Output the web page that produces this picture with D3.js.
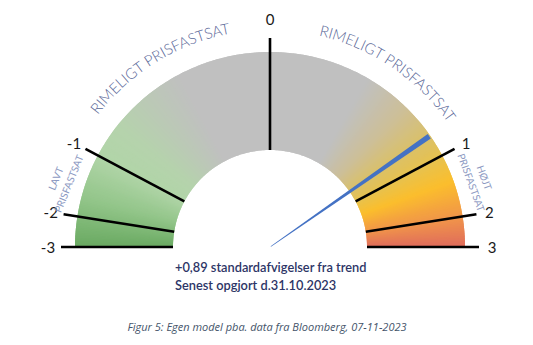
<!DOCTYPE html>
<html>
<head>
<meta charset="utf-8">
<script src="https://cdn.jsdelivr.net/npm/d3@7"></script>
<style>
  html, body { margin: 0; padding: 0; background: #ffffff; }
  svg { display: block; }
</style>
</head>
<body>
<svg id="chart" width="533" height="345"></svg>
<script>
// ---------- data ----------
const tickValues = [-3, -2, -1, 0, 1, 2, 3];
const tickLabels = ["-3", "-2", "-1", "0", "1", "2", "3"];
// gauge angle (degrees, counter-clockwise from the right) at each tick value
const tickAngles = [180, 171, 152, 90, 28, 9, 0];
const currentValue = 0.89;
const zoneTitles = ["RIMELIGT PRISFASTSAT", "RIMELIGT PRISFASTSAT"];
const lowLabel = ["LAVT", "PRISFASTSAT"];
const highLabel = ["HØJT", "PRISFASTSAT"];
const summaryLines = ["+0,89 standardafvigelser fra trend", "Senest opgjort d.31.10.2023"];
const caption = "Figur 5: Egen model pba. data fra Bloomberg, 07-11-2023";

// ---------- layout / style ----------
const cx = 270, cy = 247;
const rInner = 97, rOuter = 195, rTick = 209, rLabel = 222, rText = 217;
const gradAngles = [0, 9, 20, 28, 36, 46, 60, 118, 130, 142, 152, 165, 180];
const gradColors = ["#df6a5c", "#f0944a", "#fbbe2d", "#e7c24f", "#d9c06c", "#cdbf98", "#c0c0c0",
                    "#c0c0c0", "#bbc9b6", "#b5d3ac", "#b1d5a8", "#94c68b", "#6aaa62"];

const svg = d3.select("#chart");
const g = svg.append("g").attr("transform", `translate(${cx},${cy})`);

const valueToAngle = d3.scaleLinear().domain(tickValues).range(tickAngles);
const color = d3.scaleLinear().domain(gradAngles).range(gradColors).interpolate(d3.interpolateRgb);
const rad = d => d * Math.PI / 180;
const pt = (deg, r) => [r * Math.cos(rad(deg)), -r * Math.sin(rad(deg))];

// ---------- gradient band ----------
const arc = d3.arc().innerRadius(rInner).outerRadius(rOuter);
const step = 0.5;
const segs = d3.range(0, 180, step);
g.append("g").selectAll("path").data(segs).join("path")
  .attr("d", a => arc({ startAngle: rad(90 - a - step - 0.25), endAngle: rad(90 - a + (a === 0 ? 0 : 0.25)) }))
  .attr("fill", a => color(a + step / 2));

// ---------- tick lines ----------
g.append("g").selectAll("line").data(tickValues).join("line")
  .attr("x1", v => pt(valueToAngle(v), rInner)[0])
  .attr("y1", v => pt(valueToAngle(v), rInner)[1])
  .attr("x2", v => pt(valueToAngle(v), rTick)[0])
  .attr("y2", v => pt(valueToAngle(v), rTick)[1])
  .attr("stroke", "#000").attr("stroke-width", 2.6);

// ---------- tick labels ----------
g.append("g").selectAll("text").data(tickValues).join("text")
  .attr("x", v => pt(valueToAngle(v), rLabel + (v === 0 ? 6 : 0))[0])
  .attr("y", v => pt(valueToAngle(v), rLabel + (v === 0 ? 6 : 0))[1])
  .attr("text-anchor", "middle")
  .attr("dominant-baseline", "central")
  .attr("font-family", "Lato, 'Open Sans', sans-serif")
  .attr("font-size", 15)
  .attr("fill", "#1a1a1a")
  .text((v, i) => tickLabels[i]);

// ---------- needle ----------
const na = valueToAngle(currentValue);
const tip = pt(na, rOuter - 1);
const perp = [Math.sin(rad(na)), Math.cos(rad(na))];
const wOut = 2.7, wIn = 0.3;
const base = pt(na, 1);
const needlePts = [
  [base[0] + perp[0] * wIn, base[1] + perp[1] * wIn],
  [tip[0] + perp[0] * wOut, tip[1] + perp[1] * wOut],
  [tip[0] - perp[0] * wOut, tip[1] - perp[1] * wOut],
  [base[0] - perp[0] * wIn, base[1] - perp[1] * wIn]
];
g.append("path").attr("d", d3.line()(needlePts) + "Z").attr("fill", "#4472c4");

// ---------- curved zone titles ----------
const defs = svg.append("defs");
function arcPath(a1, a2, r) {
  const p1 = pt(a1, r), p2 = pt(a2, r);
  return `M${p1[0]},${p1[1]} A${r},${r} 0 0 1 ${p2[0]},${p2[1]}`;
}
const titleArcs = [[160, 83], [95, 17]];
titleArcs.forEach((a, i) => {
  defs.append("path").attr("id", "tp" + i).attr("d", arcPath(a[0], a[1], rText))
    .attr("transform", `translate(${cx},${cy})`);
  svg.append("text")
    .attr("font-family", "Lato, 'Open Sans', sans-serif")
    .attr("font-weight", 300)
    .attr("font-size", 15)
    .attr("fill", "#5a6898")
    .append("textPath")
    .attr("href", "#tp" + i)
    .attr("startOffset", "50%")
    .attr("text-anchor", "middle")
    .text(zoneTitles[i]);
});

// ---------- side labels ----------
function sideLabel(lines, x, y, rot) {
  const t = svg.append("text")
    .attr("transform", `translate(${x},${y}) rotate(${rot})`)
    .attr("text-anchor", "middle")
    .attr("font-family", "Lato, 'Open Sans', sans-serif")
    .attr("font-size", 10)
    .attr("fill", "#8c99c2");
  lines.forEach((s, i) => {
    t.append("tspan").attr("x", 0).attr("y", i * 14 - 3).text(s);
  });
}
sideLabel(lowLabel, 62, 181, -68);
sideLabel(highLabel, 478, 180, 70);

// ---------- summary ----------
const summary = svg.append("text")
  .attr("font-family", "Lato, 'Open Sans', sans-serif")
  .attr("font-weight", 600)
  .attr("font-size", 12.8)
  .attr("fill", "#2d3566");
summaryLines.forEach((s, i) => {
  summary.append("tspan").attr("x", 175).attr("y", 272 + i * 18).text(s);
});

svg.append("text")
  .attr("x", 267).attr("y", 331)
  .attr("text-anchor", "middle")
  .attr("font-family", "'Open Sans', sans-serif")
  .attr("font-style", "italic")
  .attr("font-size", 11)
  .attr("fill", "#44546a")
  .text(caption);
</script>
</body>
</html>
